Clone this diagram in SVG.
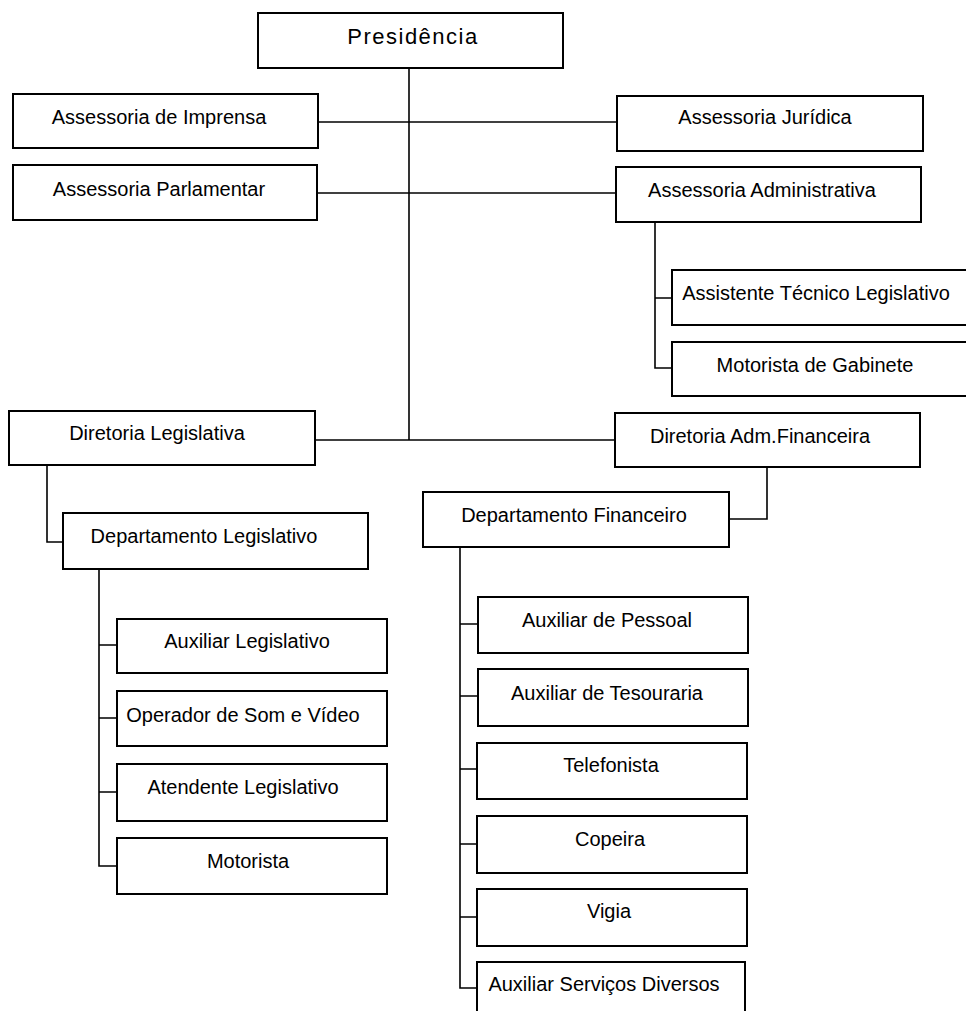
<svg xmlns="http://www.w3.org/2000/svg" width="966" height="1011" viewBox="0 0 966 1011">
<style>
.box{fill:#fff;stroke:#000;stroke-width:2}
.t{font-family:"Liberation Sans",Arial,sans-serif;font-size:20px;fill:#000;text-anchor:middle}
.big{font-size:22px;letter-spacing:1.5px}
.c{fill:none;stroke:#000;stroke-width:1.6}
</style>
<rect width="966" height="1011" fill="#fff"/>
<g id="connectors">
<path class="c" d="M409 68V440"/>
<path class="c" d="M318 122H617"/>
<path class="c" d="M317 193H616"/>
<path class="c" d="M315 440H615"/>
<path class="c" d="M655 222V368H672M655 298H672"/>
<path class="c" d="M47 465V542H63"/>
<path class="c" d="M99 569V866H117M99 645H117M99 718H117M99 792H117"/>
<path class="c" d="M767 467V519H729"/>
<path class="c" d="M460 547V988H477M460 624H478M460 696H478M460 769H477M460 844H477M460 917H477"/>
</g>
<g id="presidencia"><rect class="box" x="258" y="13" width="305" height="55"/><text class="t big" x="413" y="44">Presidência</text></g>
<g id="assessoria-imprensa"><rect class="box" x="13" y="94" width="305" height="54"/><text class="t" x="159" y="124">Assessoria de Imprensa</text></g>
<g id="assessoria-parlamentar"><rect class="box" x="13" y="165" width="304" height="55"/><text class="t" x="159" y="196">Assessoria Parlamentar</text></g>
<g id="assessoria-juridica"><rect class="box" x="617" y="96" width="306" height="55"/><text class="t" x="765" y="124">Assessoria Jurídica</text></g>
<g id="assessoria-administrativa"><rect class="box" x="616" y="167" width="305" height="55"/><text class="t" x="762" y="197">Assessoria Administrativa</text></g>
<g id="assistente-tecnico"><rect class="box" x="672" y="270" width="300" height="55"/><text class="t" x="816" y="300">Assistente Técnico Legislativo</text></g>
<g id="motorista-gabinete"><rect class="box" x="672" y="342" width="300" height="54"/><text class="t" x="815" y="372">Motorista de Gabinete</text></g>
<g id="diretoria-legislativa"><rect class="box" x="9" y="411" width="306" height="54"/><text class="t" x="157" y="440">Diretoria Legislativa</text></g>
<g id="diretoria-adm-financeira"><rect class="box" x="615" y="413" width="305" height="54"/><text class="t" x="760" y="443">Diretoria Adm.Financeira</text></g>
<g id="departamento-legislativo"><rect class="box" x="63" y="513" width="305" height="56"/><text class="t" x="204" y="543">Departamento Legislativo</text></g>
<g id="departamento-financeiro"><rect class="box" x="423" y="492" width="306" height="55"/><text class="t" x="574" y="522">Departamento Financeiro</text></g>
<g id="auxiliar-legislativo"><rect class="box" x="117" y="619" width="270" height="54"/><text class="t" x="247" y="648">Auxiliar Legislativo</text></g>
<g id="operador-som-video"><rect class="box" x="117" y="691" width="270" height="55"/><text class="t" x="243" y="722">Operador de Som e Vídeo</text></g>
<g id="atendente-legislativo"><rect class="box" x="117" y="764" width="270" height="57"/><text class="t" x="243" y="794">Atendente Legislativo</text></g>
<g id="motorista"><rect class="box" x="117" y="838" width="270" height="56"/><text class="t" x="248" y="868">Motorista</text></g>
<g id="auxiliar-pessoal"><rect class="box" x="478" y="597" width="270" height="56"/><text class="t" x="607" y="627">Auxiliar de Pessoal</text></g>
<g id="auxiliar-tesouraria"><rect class="box" x="478" y="669" width="270" height="57"/><text class="t" x="607" y="700">Auxiliar de Tesouraria</text></g>
<g id="telefonista"><rect class="box" x="477" y="743" width="270" height="56"/><text class="t" x="611" y="772">Telefonista</text></g>
<g id="copeira"><rect class="box" x="477" y="816" width="270" height="57"/><text class="t" x="610" y="846">Copeira</text></g>
<g id="vigia"><rect class="box" x="477" y="889" width="270" height="57"/><text class="t" x="609" y="918">Vigia</text></g>
<g id="auxiliar-servicos-diversos"><rect class="box" x="477" y="962" width="268" height="60"/><text class="t" x="604" y="991">Auxiliar Serviços Diversos</text></g>
</svg>
